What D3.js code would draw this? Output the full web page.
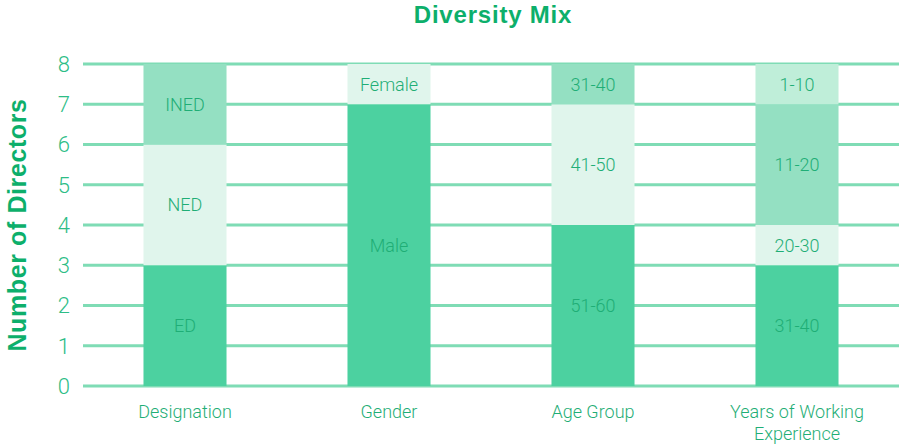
<!DOCTYPE html>
<html><head><meta charset="utf-8">
<script src="https://cdn.jsdelivr.net/npm/d3@7"></script>
<style>body{margin:0;background:#fff}svg{display:block}</style>
</head><body><svg id="c" width="899" height="445"></svg>
<script>
const categories = ["Designation", "Gender", "Age Group", "Years of Working Experience"];
// stacked segments from bottom to top: [label, value, shade]
const designation = [["ED", 3, "dark"], ["NED", 3, "light"], ["INED", 2, "mid"]];
const gender = [["Male", 7, "dark"], ["Female", 1, "light"]];
const ageGroup = [["51-60", 4, "dark"], ["41-50", 3, "light"], ["31-40", 1, "mid"]];
const experience = [["31-40", 3, "dark"], ["20-30", 1, "light"], ["11-20", 3, "mid"], ["1-10", 1, "pale"]];
const yTicks = [0, 1, 2, 3, 4, 5, 6, 7, 8];
const title = "Diversity Mix";
const yTitle = "Number of Directors";

const stacks = [designation, gender, ageGroup, experience];
const shades = {dark: "#4cd1a0", mid: "#94e0c2", light: "#e0f5ec", pale: "#bfeed9"};

const svg = d3.select("#c");
const x = d3.scaleBand().domain(categories).range([83, 899]).paddingInner(0.593).paddingOuter(0.2965);
const y = d3.scaleLinear().domain([0, 8]).range([386, 64]);

// gridlines
svg.append("g").selectAll("line").data(yTicks).join("line")
  .attr("x1", 83).attr("x2", 899)
  .attr("y1", d => y(d)).attr("y2", d => y(d))
  .attr("stroke", "#7fdcb5").attr("stroke-width", 3);

// tick labels
svg.append("g").selectAll("text").data(yTicks).join("text")
  .attr("x", 70).attr("y", d => y(d)).attr("dy", "0.36em")
  .attr("text-anchor", "end")
  .attr("font-family", "Roboto, sans-serif").attr("font-weight", 300)
  .attr("font-size", 22).attr("fill", "#2dbd86")
  .text(d => d);

// bars
stacks.forEach((segs, i) => {
  let base = 0;
  const cat = categories[i];
  const g = svg.append("g");
  segs.forEach(([lab, v, shade]) => {
    const y0 = base, y1 = base + v;
    g.append("rect")
      .attr("x", x(cat)).attr("width", x.bandwidth())
      .attr("y", y(y1)).attr("height", y(y0) - y(y1))
      .attr("fill", shades[shade]);
    g.append("text")
      .attr("x", x(cat) + x.bandwidth() / 2)
      .attr("y", (y(y0) + y(y1)) / 2).attr("dy", "0.36em")
      .attr("text-anchor", "middle")
      .attr("font-family", "Roboto, sans-serif").attr("font-weight", 300)
      .attr("font-size", 18).attr("fill", "#1fae76")
      .text(lab);
    base = y1;
  });
});

// category labels
const wrap = {"Years of Working Experience": ["Years of Working", "Experience"]};
categories.forEach(cat => {
  const lines = wrap[cat] || [cat];
  const t = svg.append("text")
    .attr("x", x(cat) + x.bandwidth() / 2).attr("y", 418)
    .attr("text-anchor", "middle")
    .attr("font-family", "Roboto, sans-serif").attr("font-weight", 300)
    .attr("font-size", 18).attr("fill", "#1fae76");
  lines.forEach((l, k) => t.append("tspan").attr("x", x(cat) + x.bandwidth() / 2).attr("dy", k ? 22 : 0).text(l));
});

// title
svg.append("text").attr("x", 493).attr("y", 23).attr("text-anchor", "middle")
  .attr("font-family", "Liberation Sans, Arial, sans-serif").attr("font-weight", "bold")
  .attr("font-size", 24).attr("letter-spacing", 0.8).attr("fill", "#0daf6b").text(title);

// y title
svg.append("text").attr("transform", "translate(26,225) rotate(-90)")
  .attr("text-anchor", "middle")
  .attr("font-family", "Liberation Sans, Arial, sans-serif").attr("font-weight", "bold")
  .attr("font-size", 25).attr("letter-spacing", 0.6).attr("fill", "#0daf6b").text(yTitle);
</script></body></html>
